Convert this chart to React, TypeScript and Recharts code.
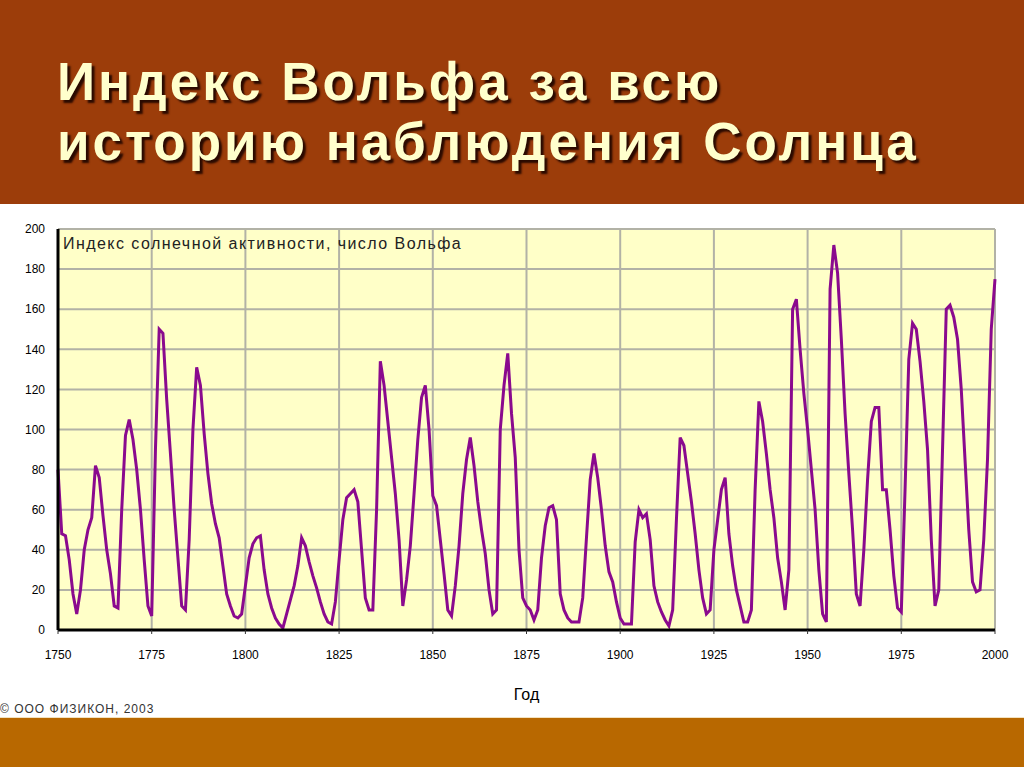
import React from 'react';
import { LineChart, Line, XAxis, YAxis, CartesianGrid } from 'recharts';

// Wolf number, one value per year starting at 1750
const FIRST_YEAR = 1750;
const wolf = [
  80, 48, 47, 35, 18, 8, 20, 40, 50, 56, // 1750
  82, 76, 57, 40, 28, 12, 11, 60, 97, 105, // 1760
  95, 80, 60, 35, 12, 7, 90, 150, 148, 115, // 1770
  88, 60, 36, 12, 10, 45, 100, 131, 122, 98, // 1780
  78, 63, 53, 46, 32, 18, 12, 7, 6, 8, // 1790
  22, 36, 43, 46, 47, 30, 18, 11, 6, 3, // 1800
  1, 8, 15, 22, 32, 46, 42, 34, 27, 21, // 1810
  14, 8, 4, 3, 14, 35, 55, 66, 68, 70, // 1820
  64, 40, 16, 10, 10, 60, 134, 122, 104, 86, // 1830
  68, 45, 12, 25, 42, 68, 95, 116, 122, 100, // 1840
  67, 62, 45, 28, 10, 7, 22, 42, 68, 85, // 1850
  96, 82, 64, 50, 38, 20, 8, 10, 100, 122, // 1860
  138, 108, 86, 40, 16, 12, 10, 5, 10, 36, // 1870
  52, 61, 62, 55, 18, 10, 6, 4, 4, 4, // 1880
  16, 46, 75, 88, 76, 60, 42, 29, 24, 14, // 1890
  6, 3, 3, 3, 44, 60, 56, 58, 45, 22, // 1900
  14, 9, 5, 2, 10, 55, 96, 92, 78, 64, // 1910
  48, 30, 16, 8, 10, 40, 55, 70, 76, 48, // 1920
  32, 20, 12, 4, 4, 10, 70, 114, 104, 88, // 1930
  70, 56, 36, 24, 10, 30, 160, 165, 140, 118, // 1940
  100, 80, 60, 30, 8, 4, 170, 192, 178, 145, // 1950
  108, 78, 50, 18, 12, 40, 75, 104, 111, 111, // 1960
  70, 70, 50, 27, 11, 9, 70, 135, 153, 150, // 1970
  134, 114, 90, 45, 12, 20, 90, 160, 162, 156, // 1980
  145, 120, 85, 50, 24, 19, 20, 45, 85, 150, // 1990
  175, // 2000
];

const yearTicks = [1750, 1775, 1800, 1825, 1850, 1875, 1900, 1925, 1950, 1975, 2000];
const valueTicks = [0, 20, 40, 60, 80, 100, 120, 140, 160, 180, 200];

const data = wolf.map((w, i) => ({ year: FIRST_YEAR + i, w }));

const sans = '"Liberation Sans", Arial, sans-serif';

export default function App() {
  return (
    <div style={{ position: 'absolute', left: 0, top: 0, width: 1024, height: 767, background: '#fff', overflow: 'hidden', fontFamily: sans }}>
      {/* header */}
      <div style={{ position: 'absolute', left: 0, top: 0, width: 1024, height: 204, background: '#9c3d0a' }} />
      {['Индекс Вольфа за всю', 'историю наблюдения Солнца'].map((t, i) => (
        <div
          key={i}
          style={{
            position: 'absolute', left: 57, top: 52 + i * 60, lineHeight: '60px',
            fontSize: 53, fontWeight: 'bold', letterSpacing: 3, color: '#ffffcc',
            textShadow: '3px 3px 2px #2a0a00', whiteSpace: 'nowrap',
          }}
        >
          {t}
        </div>
      ))}

      <div style={{ position: 'absolute', left: 0, top: 205 }}>
        <LineChart width={1024} height={505} data={data} margin={{ top: 24, right: 29, bottom: 0, left: 0 }}>
          <CartesianGrid fill="#ffffc8" stroke="#b2b2a6" strokeWidth={2} horizontalValues={valueTicks} verticalValues={yearTicks} />
          <XAxis
            dataKey="year" type="number" domain={[1750, 2000]} ticks={yearTicks}
            axisLine={{ stroke: '#000', strokeWidth: 3 }} tickLine={{ stroke: '#333' }} tickSize={4} tickMargin={16}
            height={80} interval={0}
            tick={{ fill: '#000', fontSize: 12, fontFamily: sans }}
            label={{ value: 'Год', position: 'insideBottom', offset: 10, fill: '#000', fontSize: 16, fontFamily: sans }}
          />
          <YAxis
            type="number" domain={[0, 200]} ticks={valueTicks} width={58} interval={0}
            axisLine={{ stroke: '#000', strokeWidth: 3 }} tickLine={false} tickSize={0} tickMargin={13}
            tick={{ fill: '#000', fontSize: 12, fontFamily: sans }}
          />
          <Line type="linear" dataKey="w" stroke="#8a0a8e" strokeWidth={3} dot={false} isAnimationActive={false} />
        </LineChart>
      </div>

      <div style={{ position: 'absolute', left: 63, top: 235, fontSize: 16, color: '#222', letterSpacing: 1.45, whiteSpace: 'nowrap' }}>
        Индекс солнечной активности, число Вольфа
      </div>

      <div style={{ position: 'absolute', left: 0, top: 702, fontSize: 12, color: '#333', letterSpacing: 1, whiteSpace: 'nowrap' }}>
        © ООО ФИЗИКОН, 2003
      </div>

      {/* footer band */}
      <div style={{ position: 'absolute', left: 0, top: 717, width: 1024, height: 1, background: '#f3e2c0' }} />
      <div style={{ position: 'absolute', left: 0, top: 718, width: 1024, height: 49, background: '#b86800' }} />
    </div>
  );
}
